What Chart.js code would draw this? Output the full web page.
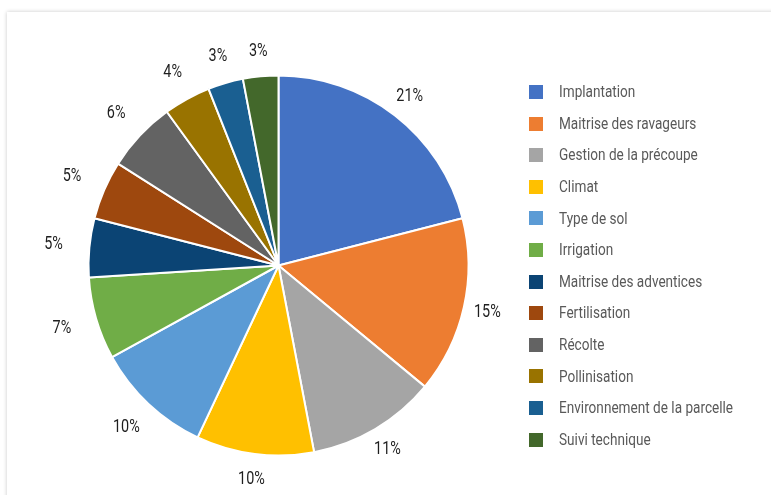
<!DOCTYPE html>
<html lang="fr">
<head>
<meta charset="utf-8">
<title>Répartition des facteurs</title>
<script src="https://cdn.jsdelivr.net/npm/chart.js@4/dist/chart.umd.min.js"></script>
<style>
  html, body { margin: 0; padding: 0; background: #ffffff; }
  body { width: 771px; height: 495px; position: relative; overflow: hidden; }
  .card {
    position: absolute; left: 7px; top: 12px; width: 800px; height: 520px;
    background: #ffffff; box-shadow: 0 0 4px rgba(0,0,0,0.22);
  }
  #chart { position: absolute; left: 0; top: 0; }
</style>
</head>
<body>
<div class="card"></div>
<canvas id="chart" width="771" height="495"></canvas>
<script>
// Facteurs cités (part en %)
const categories = [
  'Implantation',
  'Maitrise des ravageurs',
  'Gestion de la précoupe',
  'Climat',
  'Type de sol',
  'Irrigation',
  'Maitrise des adventices',
  'Fertilisation',
  'Récolte',
  'Pollinisation',
  'Environnement de la parcelle',
  'Suivi technique'
];
const shares = [21, 15, 11, 10, 10, 7, 5, 5, 6, 4, 3, 3];
const sliceColors = [
  '#4472C4', '#ED7D31', '#A5A5A5', '#FFC000', '#5B9BD5', '#70AD47',
  '#0B4474', '#9E480E', '#636363', '#997300', '#1A5F91', '#43682B'
];

const LEGEND_FONT = "17px Roboto, 'Open Sans', sans-serif";
const VALUE_FONT = "18px Roboto, 'Open Sans', sans-serif";
const NARROW = 0.8; // compression horizontale pour un rendu « condensed »

function narrowText(ctx, text, x, y) {
  ctx.save();
  ctx.translate(x, y);
  ctx.scale(NARROW, 1);
  ctx.fillText(text, 0, 0);
  ctx.restore();
}

// Pourcentages à l'extérieur de chaque part
const outsideLabels = {
  id: 'outsideLabels',
  afterDatasetsDraw(chart) {
    const ctx = chart.ctx;
    const meta = chart.getDatasetMeta(0);
    const values = chart.data.datasets[0].data;
    ctx.save();
    ctx.font = VALUE_FONT;
    ctx.fillStyle = '#1e1e1e';
    ctx.textAlign = 'center';
    ctx.textBaseline = 'middle';
    meta.data.forEach((arc, i) => {
      const p = arc.getProps(['x', 'y', 'startAngle', 'endAngle', 'outerRadius'], true);
      const mid = (p.startAngle + p.endAngle) / 2;
      const c = Math.cos(mid), s = Math.sin(mid);
      const r = p.outerRadius + 24 + 12 * Math.max(0, -c);
      narrowText(ctx, values[i] + '%', p.x + r * c, p.y + r * s);
    });
    ctx.restore();
  }
};

// Légende verticale à droite
const sideLegend = {
  id: 'sideLegend',
  afterDraw(chart) {
    const ctx = chart.ctx;
    const labels = chart.data.labels;
    const colors = chart.data.datasets[0].backgroundColor;
    const x0 = 529, y0 = 92, step = 31.6, box = 14;
    ctx.save();
    ctx.font = LEGEND_FONT;
    ctx.textAlign = 'left';
    ctx.textBaseline = 'middle';
    labels.forEach((lab, i) => {
      const y = y0 + i * step;
      ctx.fillStyle = colors[i];
      ctx.fillRect(x0, Math.round(y - box / 2), box, box);
      ctx.fillStyle = '#595959';
      narrowText(ctx, lab, 559, y + 1);
    });
    ctx.restore();
  }
};

new Chart(document.getElementById('chart'), {
  type: 'pie',
  data: {
    labels: categories,
    datasets: [{
      data: shares,
      backgroundColor: sliceColors,
      borderColor: '#ffffff',
      borderWidth: 2
    }]
  },
  options: {
    responsive: false,
    animation: false,
    layout: { padding: { left: 87.5, top: 74.5, right: 301.5, bottom: 38.5 } },
    plugins: {
      legend: { display: false },
      tooltip: { enabled: false }
    }
  },
  plugins: [outsideLabels, sideLegend]
});
</script>
</body>
</html>
